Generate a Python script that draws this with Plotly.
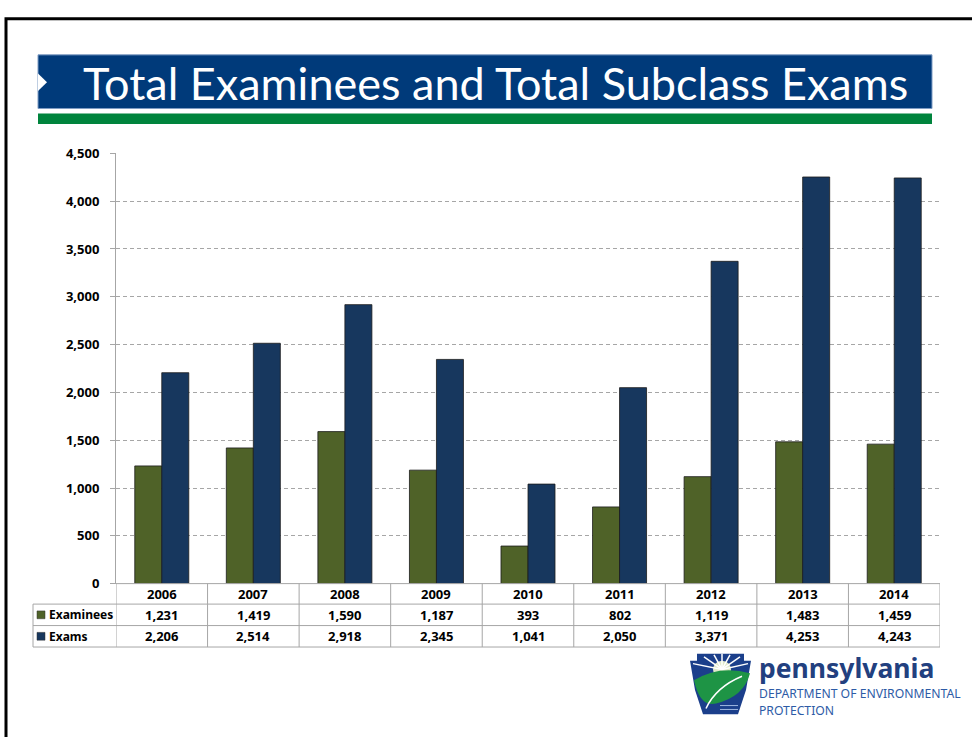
import plotly.graph_objects as go

years = ['2006', '2007', '2008', '2009', '2010', '2011', '2012', '2013', '2014']
examinees = [1231, 1419, 1590, 1187, 393, 802, 1119, 1483, 1459]
exams = [2206, 2514, 2918, 2345, 1041, 2050, 3371, 4253, 4243]
series_names = ['Examinees', 'Exams']
series_colors = ['#4F6228', '#17375E']
title_text = 'Total Examinees and Total Subclass Exams'

W, H = 972, 737
FONT = 'Noto Sans'
GRID = '#A6A6A6'


def px(x):
    return x / W


def py(y):
    return 1 - y / H


fig = go.Figure()
for name, vals, col in zip(series_names, [examinees, exams], series_colors):
    fig.add_trace(go.Bar(x=list(range(len(years))), y=vals, name=name,
                         marker=dict(color=col, line=dict(color='#1c1c1c', width=0.8))))

shapes = []
annotations = []

# slide frame
shapes.append(dict(type='rect', xref='paper', yref='paper', x0=px(6), x1=px(990),
                   y0=py(10), y1=py(760), line=dict(color='black', width=3)))
# title banner
shapes.append(dict(type='rect', xref='paper', yref='paper', x0=px(38), x1=px(932),
                   y0=py(47), y1=py(102), fillcolor='#003A7A',
                   line=dict(color='#7f9cc4', width=1)))
shapes.append(dict(type='path', xref='paper', yref='paper',
                   path='M %f %f L %f %f L %f %f Z' % (px(38), py(66), px(47), py(75), px(38), py(84)),
                   fillcolor='white', line=dict(width=0)))
shapes.append(dict(type='rect', xref='paper', yref='paper', x0=px(38), x1=px(932),
                   y0=py(107), y1=py(118), fillcolor='#00843D', line=dict(width=0)))
annotations.append(dict(xref='paper', yref='paper', x=px(495), y=py(76), text=title_text,
                        showarrow=False, font=dict(family='Lato', size=45, color='white'),
                        xanchor='center', yanchor='middle'))

# data table grid
row_y = [589, 610, 632, 654]
for i, y in enumerate(row_y):
    x0 = 116 if i == 0 else 33
    shapes.append(dict(type='line', xref='paper', yref='paper', x0=px(x0), x1=px(940),
                       y0=py(y), y1=py(y), line=dict(color=GRID, width=1)))
shapes.append(dict(type='line', xref='paper', yref='paper', x0=px(33), x1=px(33),
                   y0=py(610), y1=py(654), line=dict(color=GRID, width=1)))
for k in range(len(years) + 1):
    shapes.append(dict(type='line', xref='x', yref='paper', x0=k - 0.5, x1=k - 0.5,
                       y0=py(589), y1=py(654), line=dict(color=GRID, width=1)))

num_font = dict(family=FONT, size=13, color='black')
for k, yr in enumerate(years):
    annotations.append(dict(xref='x', yref='paper', x=k, y=py(600), text='<b>%s</b>' % yr,
                            showarrow=False, font=num_font, yanchor='middle'))
    for vals, yc in zip([examinees, exams], [621, 643]):
        annotations.append(dict(xref='x', yref='paper', x=k, y=py(yc),
                                text='<b>{:,}</b>'.format(vals[k]),
                                showarrow=False, font=num_font, yanchor='middle'))
for name, col, yc in zip(series_names, series_colors, [621, 643]):
    shapes.append(dict(type='rect', xref='paper', yref='paper', x0=px(37), x1=px(45),
                       y0=py(yc - 4), y1=py(yc + 4), fillcolor=col,
                       line=dict(color='#333', width=0.5)))
    annotations.append(dict(xref='paper', yref='paper', x=px(47), y=py(yc), text='<b>%s</b>' % name,
                            showarrow=False, font=dict(family=FONT, size=12, color='black'),
                            xanchor='left', yanchor='middle'))

# logo: keystone
key = [(697, 661), (744, 661), (744, 668), (751, 668), (746, 698), (738, 723),
       (703, 723), (695, 698), (690, 668), (697, 668)]
shapes.append(dict(type='path', xref='paper', yref='paper',
                   path='M ' + ' L '.join('%f %f' % (px(a), py(b)) for a, b in key) + ' Z',
                   fillcolor='#1B3F8B', line=dict(width=0)))
# sun
shapes.append(dict(type='circle', xref='paper', yref='paper', x0=px(713), x1=px(731),
                   y0=py(668), y1=py(686), fillcolor='#dfe9c8', line=dict(width=0)))
for a, b in [(704, 664), (714, 662), (722, 661), (730, 662), (740, 664), (748, 671), (693, 671)]:
    shapes.append(dict(type='line', xref='paper', yref='paper', x0=px(722), y0=py(677),
                       x1=px(a), y1=py(b), line=dict(color='white', width=1.5)))
# leaf
leaf = 'M %f %f Q %f %f %f %f Q %f %f %f %f Q %f %f %f %f Z' % (
    px(694), py(688), px(720), py(672), px(750), py(681),
    px(744), py(705), px(716), py(712),
    px(700), py(716), px(694), py(688))
shapes.append(dict(type='path', xref='paper', yref='paper', path=leaf,
                   fillcolor='#1E9445', line=dict(width=0)))
shapes.append(dict(type='path', xref='paper', yref='paper',
                   path='M %f %f Q %f %f %f %f' % (px(706), py(717), px(716), py(695), px(742), py(684)),
                   line=dict(color='white', width=1.5)))
for yy in [714, 718]:
    shapes.append(dict(type='line', xref='paper', yref='paper', x0=px(720), x1=px(738),
                       y0=py(yy), y1=py(yy), line=dict(color='#9fb7e0', width=1)))

annotations.append(dict(xref='paper', yref='paper', x=px(757), y=py(676), text='<b>pennsylvania</b>',
                        showarrow=False, font=dict(family=FONT, size=26.5, color='#22407F'),
                        xanchor='left', yanchor='middle'))
annotations.append(dict(xref='paper', yref='paper', x=px(757), y=py(702),
                        text='DEPARTMENT OF ENVIRONMENTAL',
                        showarrow=False, font=dict(family=FONT, size=12.2, color='#2D5BA6'),
                        xanchor='left', yanchor='middle'))
annotations.append(dict(xref='paper', yref='paper', x=px(757), y=py(719), text='PROTECTION',
                        showarrow=False, font=dict(family=FONT, size=12.2, color='#2D5BA6'),
                        xanchor='left', yanchor='middle'))

fig.update_layout(
    width=W, height=H,
    margin=dict(l=0, r=0, t=0, b=0),
    paper_bgcolor='white', plot_bgcolor='white',
    showlegend=False,
    barmode='group', bargap=0.41, bargroupgap=0,
    shapes=shapes, annotations=annotations,
    font=dict(family=FONT),
)
fig.update_xaxes(domain=[px(116), px(940)], range=[-0.5, len(years) - 0.5],
                 showticklabels=False, showgrid=False, showline=False, ticks='',
                 zeroline=False)
fig.update_yaxes(domain=[py(589), py(148)], range=[0, 4500], dtick=500,
                 tickformat=',', showgrid=True, gridcolor=GRID, griddash='4px,3px',
                 gridwidth=1, showline=True, linecolor=GRID, linewidth=1,
                 ticks='outside', ticklen=5, tickcolor=GRID, zeroline=False,
                 ticklabelstandoff=8,
                 tickfont=dict(family=FONT, size=13, color='black', weight='bold'))

fig.write_html('out.html', config={'displayModeBar': False},
               post_script="document.body.style.margin='0';document.body.style.overflow='hidden';"
                           "var d=document.getElementById('{plot_id}');"
                           "d.style.position='fixed';d.style.top='0';d.style.left='0';")
